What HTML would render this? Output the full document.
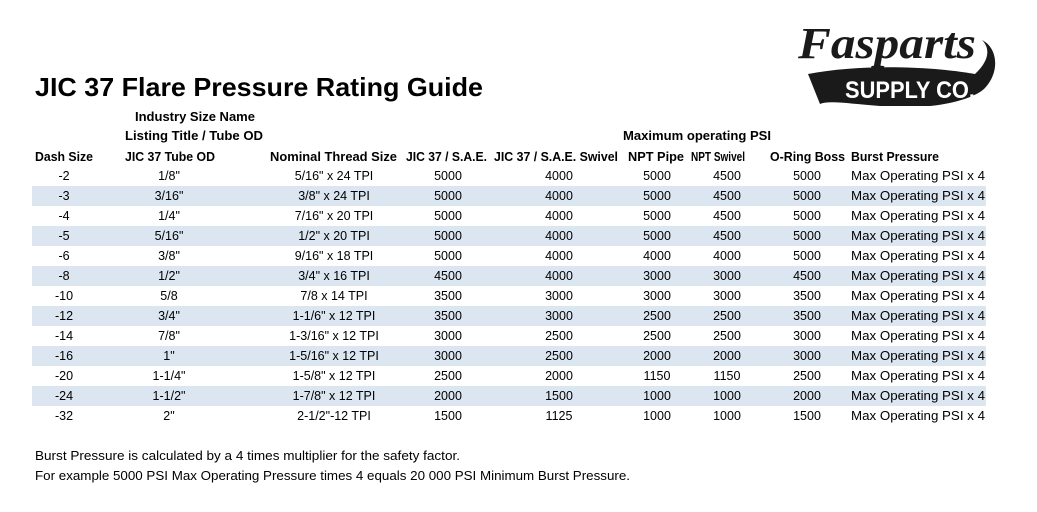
<!DOCTYPE html>
<html><head><meta charset="utf-8"><style>
html,body{margin:0;padding:0;background:#fff;}
svg{display:block;font-family:"Liberation Sans",sans-serif;}
</style></head><body>
<svg width="1037" height="512" viewBox="0 0 1037 512" xmlns="http://www.w3.org/2000/svg">
<rect width="1037" height="512" fill="#fff"/>
<!-- logo -->
<path d="M808 74 C860 64 930 66 975 74 C990 60 990 48 982 40 C998 48 1000 72 985 88 C975 98 950 104 930 106 L880 106 C850 104 830 100 820 104 Z" fill="#1a1a1a"/>
<text x="798" y="58" font-family="Liberation Serif,serif" font-style="italic" font-weight="bold" font-size="44" fill="#1a1a1a" textLength="178" lengthAdjust="spacingAndGlyphs">Fasparts</text>
<text x="845" y="98" font-weight="bold" font-size="24" fill="#fff" textLength="130" lengthAdjust="spacingAndGlyphs">SUPPLY CO.</text>
<!-- title -->
<text x="35" y="96" font-weight="bold" font-size="26" fill="#000" textLength="448" lengthAdjust="spacingAndGlyphs">JIC 37 Flare Pressure Rating Guide</text>
<!-- bands -->
<g fill="#dce6f1">
<rect x="32" y="186" width="954" height="20"/>
<rect x="32" y="226" width="954" height="20"/>
<rect x="32" y="266" width="954" height="20"/>
<rect x="32" y="306" width="954" height="20"/>
<rect x="32" y="346" width="954" height="20"/>
<rect x="32" y="386" width="954" height="20"/>
</g>
<g font-weight="bold" font-size="12.5" fill="#000">
<text x="195" y="121" text-anchor="middle" textLength="120" lengthAdjust="spacingAndGlyphs">Industry Size Name</text>
<text x="194" y="140" text-anchor="middle" textLength="138" lengthAdjust="spacingAndGlyphs">Listing Title / Tube OD</text>
<text x="697" y="140" text-anchor="middle" textLength="148" lengthAdjust="spacingAndGlyphs">Maximum operating PSI</text>
<text x="35" y="161" textLength="58" lengthAdjust="spacingAndGlyphs">Dash Size</text>
<text x="125" y="161" textLength="90" lengthAdjust="spacingAndGlyphs">JIC 37 Tube OD</text>
<text x="270" y="161" textLength="127" lengthAdjust="spacingAndGlyphs">Nominal Thread Size</text>
<text x="406" y="161" textLength="81" lengthAdjust="spacingAndGlyphs">JIC 37 / S.A.E.</text>
<text x="494" y="161" textLength="124" lengthAdjust="spacingAndGlyphs">JIC 37 / S.A.E. Swivel</text>
<text x="628" y="161" textLength="56" lengthAdjust="spacingAndGlyphs">NPT Pipe</text>
<text x="691" y="161" textLength="54" lengthAdjust="spacingAndGlyphs">NPT Swivel</text>
<text x="770" y="161" textLength="75" lengthAdjust="spacingAndGlyphs">O-Ring Boss</text>
<text x="851" y="161" textLength="88" lengthAdjust="spacingAndGlyphs">Burst Pressure</text>
</g>
<g font-size="12.5" fill="#000" id="rows"></g>
<g font-size="12.5" fill="#000">
<text x="35" y="460" textLength="425" lengthAdjust="spacingAndGlyphs">Burst Pressure is calculated by a 4 times multiplier for the safety factor.</text>
<text x="35" y="480" textLength="595" lengthAdjust="spacingAndGlyphs">For example 5000 PSI Max Operating Pressure times 4 equals 20 000 PSI Minimum Burst Pressure.</text>
</g>
</svg>
<script>
var d=[["-2",'1/8"','5/16" x 24 TPI',5000,4000,5000,4500,5000],
["-3",'3/16"','3/8" x 24 TPI',5000,4000,5000,4500,5000],
["-4",'1/4"','7/16" x 20 TPI',5000,4000,5000,4500,5000],
["-5",'5/16"','1/2" x 20 TPI',5000,4000,5000,4500,5000],
["-6",'3/8"','9/16" x 18 TPI',5000,4000,4000,4000,5000],
["-8",'1/2"','3/4" x 16 TPI',4500,4000,3000,3000,4500],
["-10",'5/8','7/8 x 14 TPI',3500,3000,3000,3000,3500],
["-12",'3/4"','1-1/6" x 12 TPI',3500,3000,2500,2500,3500],
["-14",'7/8"','1-3/16" x 12 TPI',3000,2500,2500,2500,3000],
["-16",'1"','1-5/16" x 12 TPI',3000,2500,2000,2000,3000],
["-20",'1-1/4"','1-5/8" x 12 TPI',2500,2000,1150,1150,2500],
["-24",'1-1/2"','1-7/8" x 12 TPI',2000,1500,1000,1000,2000],
["-32",'2"','2-1/2"-12 TPI',1500,1125,1000,1000,1500]];
var cx=[64,169,334,448,559,657,727,807],g=document.getElementById('rows'),ns="http://www.w3.org/2000/svg";
d.forEach(function(r,i){var y=180+i*20;
r.forEach(function(v,j){var t=document.createElementNS(ns,'text');t.setAttribute('x',cx[j]);t.setAttribute('y',y);t.setAttribute('text-anchor','middle');t.textContent=v;g.appendChild(t);});
var t=document.createElementNS(ns,'text');t.setAttribute('x',851);t.setAttribute('y',y);t.setAttribute('textLength',134);t.setAttribute('lengthAdjust','spacingAndGlyphs');t.textContent='Max Operating PSI x 4';g.appendChild(t);});
</script>
</body></html>
